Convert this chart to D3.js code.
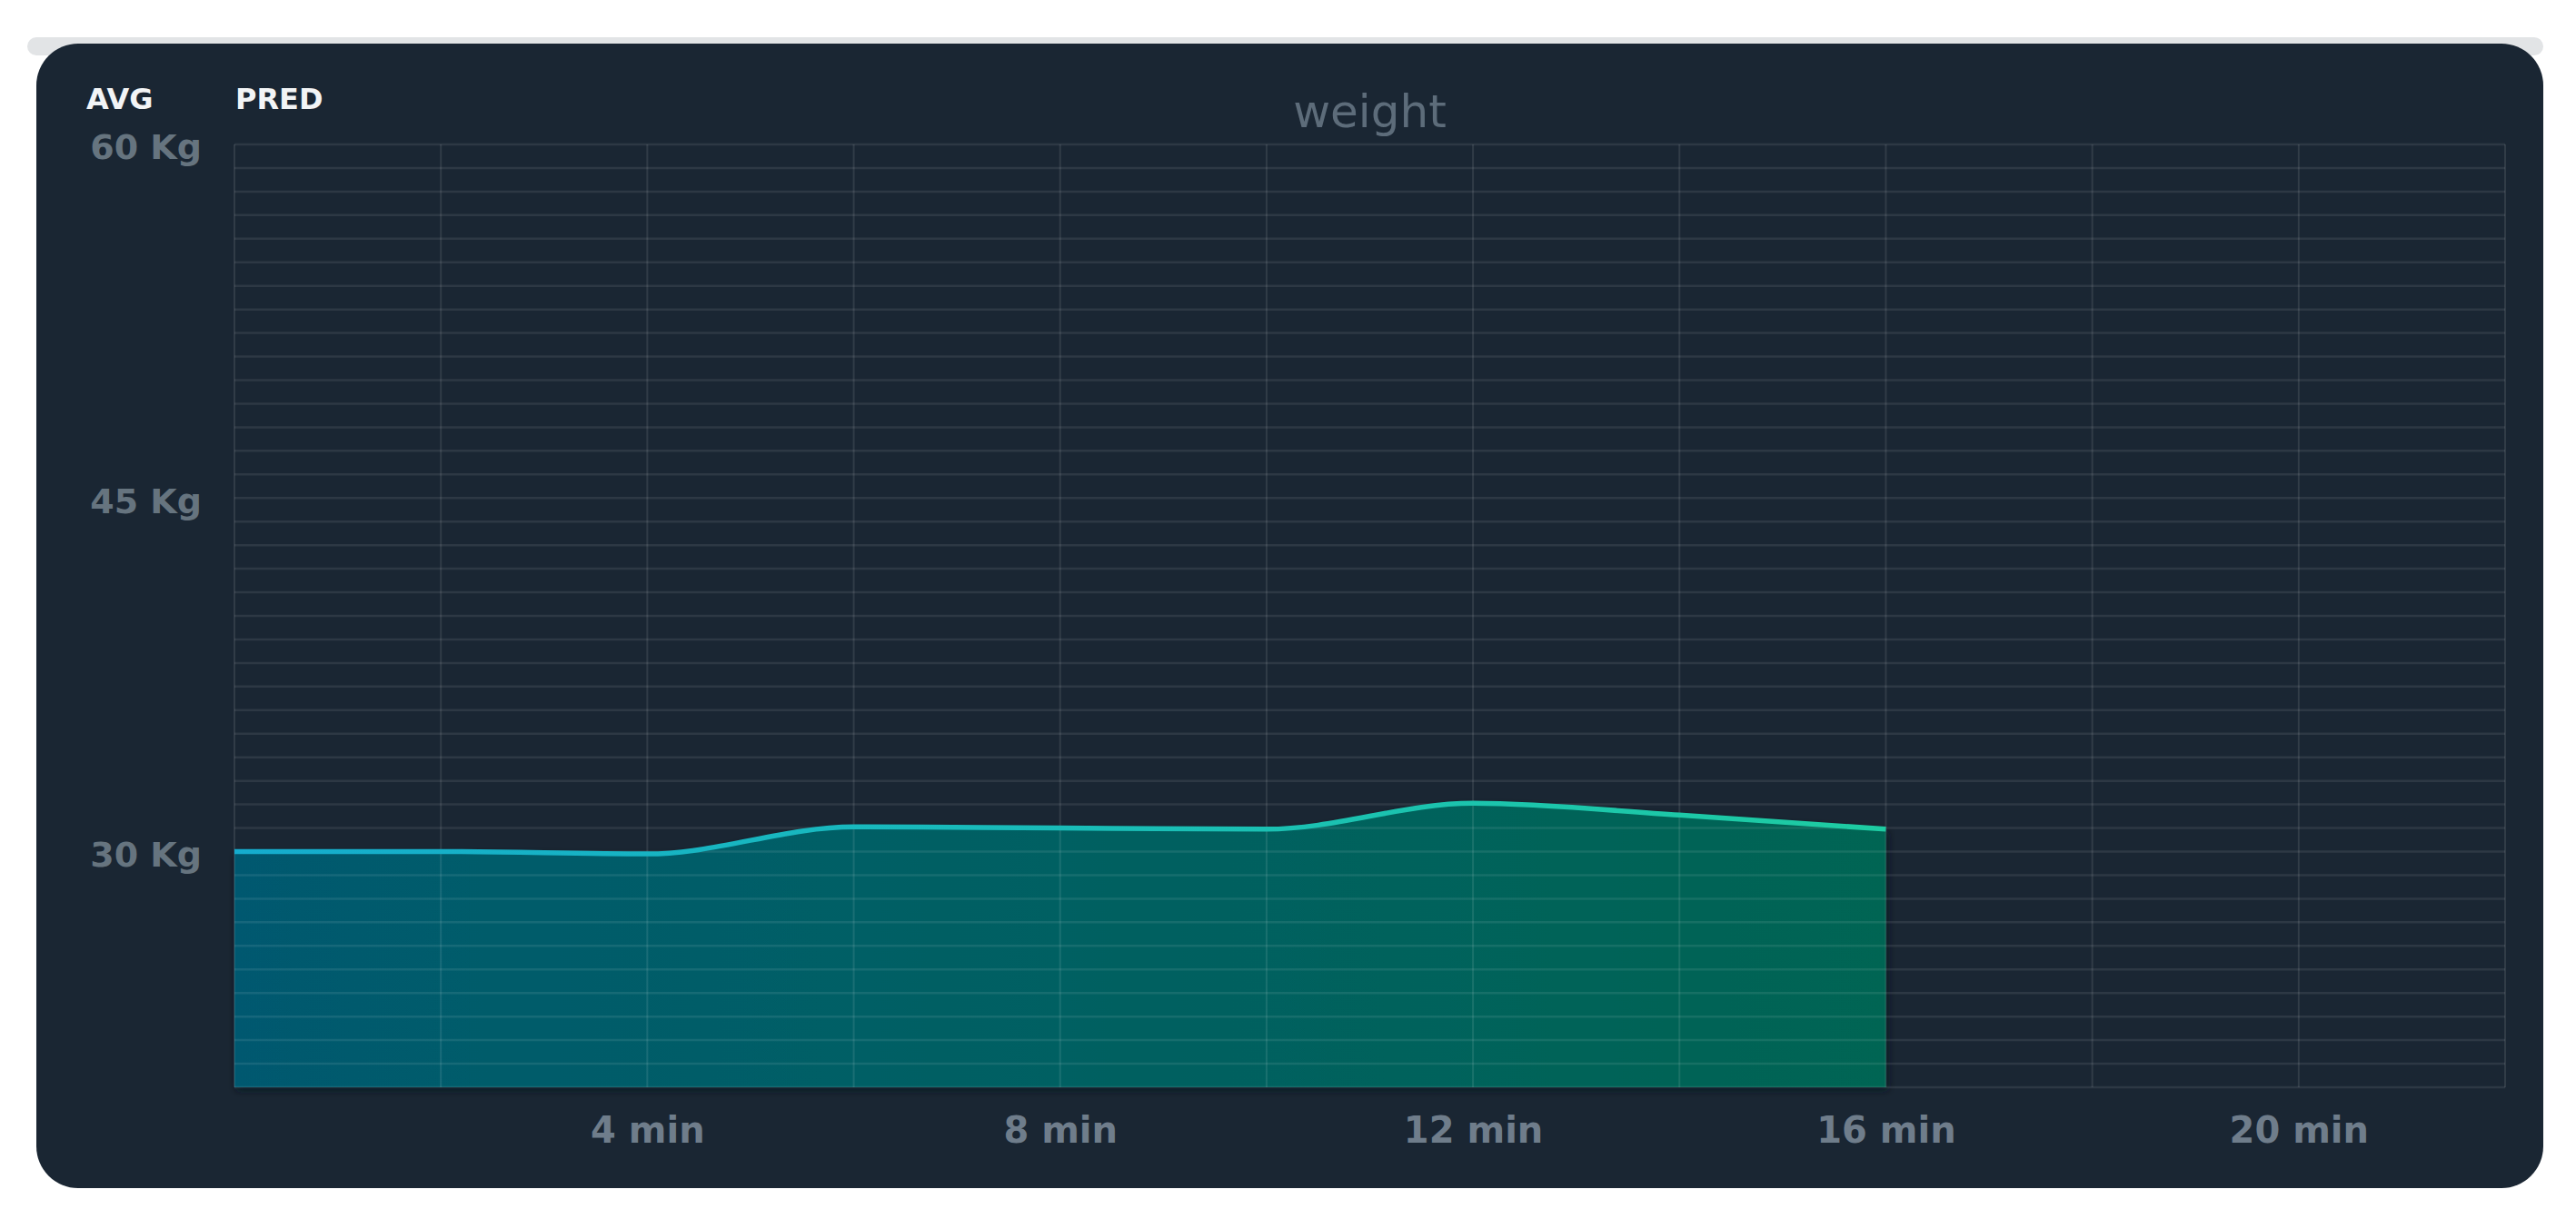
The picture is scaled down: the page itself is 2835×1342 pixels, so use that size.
<!DOCTYPE html>
<html>
<head>
<meta charset="utf-8">
<script src="https://cdn.jsdelivr.net/npm/d3@7"></script>
<style>
  body { margin: 0; background: #ffffff; }
  #chart { width: 2835px; height: 1342px; }
</style>
</head>
<body>
<div id="chart"></div>
<script>
// minutes and weight readings (kg)
var minutes = [0, 2, 4, 6, 8, 10, 12, 14, 16];
var weights = [30.0, 30.0, 29.9, 31.05, 31.0, 30.95, 32.05, 31.55, 30.95];
var xTicks = [4, 8, 12, 16, 20];
var yTicks = [30, 45, 60];
var legendItems = ["AVG", "PRED"];
var chartTitle = "weight";

var data = minutes.map(function (m, i) { return {min: m, kg: weights[i]}; });

var margin = {top: 159, right: 78, bottom: 145, left: 258},
    width = 2835 - margin.left - margin.right,
    height = 1342 - margin.top - margin.bottom;

var svg = d3.select("#chart")
  .append("svg")
    .attr("width", 2835)
    .attr("height", 1342);

var defs = svg.append("defs");

// card behind the chart
svg.append("rect")
  .attr("x", 30).attr("y", 41)
  .attr("width", 2769).attr("height", 20)
  .attr("rx", 10)
  .attr("fill", "#e2e4e6");
svg.append("rect")
  .attr("x", 40).attr("y", 48)
  .attr("width", 2759).attr("height", 1260)
  .attr("rx", 46)
  .attr("fill", "#1a2633");

var g = svg.append("g")
  .attr("transform", "translate(" + margin.left + "," + margin.top + ")");

var x = d3.scaleLinear()
  .domain([0, 22])
  .range([0, width]);

var y = d3.scaleLinear()
  .domain([20, 60])
  .range([height, 0]);

// gradients for the area and its line
var fillGrad = defs.append("linearGradient")
  .attr("id", "fillGrad")
  .attr("gradientUnits", "userSpaceOnUse")
  .attr("x1", x(0)).attr("x2", x(16)).attr("y1", 0).attr("y2", 0);
fillGrad.append("stop").attr("offset", "0%").attr("stop-color", "#03596f");
fillGrad.append("stop").attr("offset", "50%").attr("stop-color", "#006062");
fillGrad.append("stop").attr("offset", "100%").attr("stop-color", "#006553");

var lineGrad = defs.append("linearGradient")
  .attr("id", "lineGrad")
  .attr("gradientUnits", "userSpaceOnUse")
  .attr("x1", x(0)).attr("x2", x(16)).attr("y1", 0).attr("y2", 0);
lineGrad.append("stop").attr("offset", "0%").attr("stop-color", "#15acce");
lineGrad.append("stop").attr("offset", "100%").attr("stop-color", "#1ecca2");

var shadow = defs.append("filter")
  .attr("id", "shadow")
  .attr("x", "-5%").attr("y", "-10%")
  .attr("width", "110%").attr("height", "120%");
shadow.append("feDropShadow")
  .attr("dx", 2).attr("dy", 3)
  .attr("stdDeviation", 4)
  .attr("flood-color", "#061820")
  .attr("flood-opacity", 0.85);

var area = d3.area()
  .x(function (d) { return x(d.min); })
  .y0(height)
  .y1(function (d) { return y(d.kg); })
  .curve(d3.curveMonotoneX);

var line = d3.line()
  .x(function (d) { return x(d.min); })
  .y(function (d) { return y(d.kg); })
  .curve(d3.curveMonotoneX);

var series = g.append("g").attr("filter", "url(#shadow)");
series.append("path")
  .datum(data)
  .attr("d", area)
  .attr("fill", "url(#fillGrad)");

// grid on top so it shows through the fill
g.append("g")
  .selectAll("line")
  .data(d3.range(20, 61, 1))
  .enter()
  .append("line")
    .attr("x1", 0).attr("x2", width)
    .attr("y1", function (d) { return y(d); })
    .attr("y2", function (d) { return y(d); })
    .attr("stroke", "#ffffff")
    .attr("stroke-opacity", 0.085)
    .attr("stroke-width", 2.5);

g.append("g")
  .selectAll("line")
  .data(d3.range(0, 23, 2))
  .enter()
  .append("line")
    .attr("x1", function (d) { return x(d); })
    .attr("x2", function (d) { return x(d); })
    .attr("y1", 0).attr("y2", height)
    .attr("stroke", "#ffffff")
    .attr("stroke-opacity", 0.1)
    .attr("stroke-width", 2);

g.append("path")
  .datum(data)
  .attr("d", line)
  .attr("fill", "none")
  .attr("stroke", "url(#lineGrad)")
  .attr("stroke-width", 5.5);

// axes
var xAxis = g.append("g")
  .attr("transform", "translate(0," + height + ")")
  .call(d3.axisBottom(x)
    .tickValues(xTicks)
    .tickSize(0)
    .tickPadding(33)
    .tickFormat(function (d) { return d + " min"; }));
xAxis.select(".domain").remove();
xAxis.selectAll("text")
  .attr("fill", "#6f7d8b")
  .style("font-family", "DejaVu Sans")
  .style("font-weight", "bold")
  .style("font-size", "40px");

var yAxis = g.append("g")
  .call(d3.axisLeft(y)
    .tickValues(yTicks)
    .tickSize(0)
    .tickPadding(36)
    .tickFormat(function (d) { return d + " Kg"; }));
yAxis.select(".domain").remove();
yAxis.selectAll("text")
  .attr("dy", "0.42em")
  .attr("fill", "#66747f")
  .style("font-family", "DejaVu Sans")
  .style("font-weight", "bold")
  .style("font-size", "38px");

// title and legend labels
svg.append("text")
  .attr("x", margin.left + width / 2)
  .attr("y", 140)
  .attr("text-anchor", "middle")
  .attr("fill", "#5d6c7a")
  .style("font-family", "DejaVu Sans")
  .style("font-size", "50px")
  .text(chartTitle);

svg.selectAll(".legend")
  .data(legendItems)
  .enter()
  .append("text")
    .attr("class", "legend")
    .attr("x", function (d, i) { return i === 0 ? 95 : 259; })
    .attr("y", 120)
    .attr("fill", "#f2f4f6")
    .style("font-family", "DejaVu Sans")
    .style("font-weight", "bold")
    .style("font-size", "32px")
    .text(function (d) { return d; });
</script>
</body>
</html>
